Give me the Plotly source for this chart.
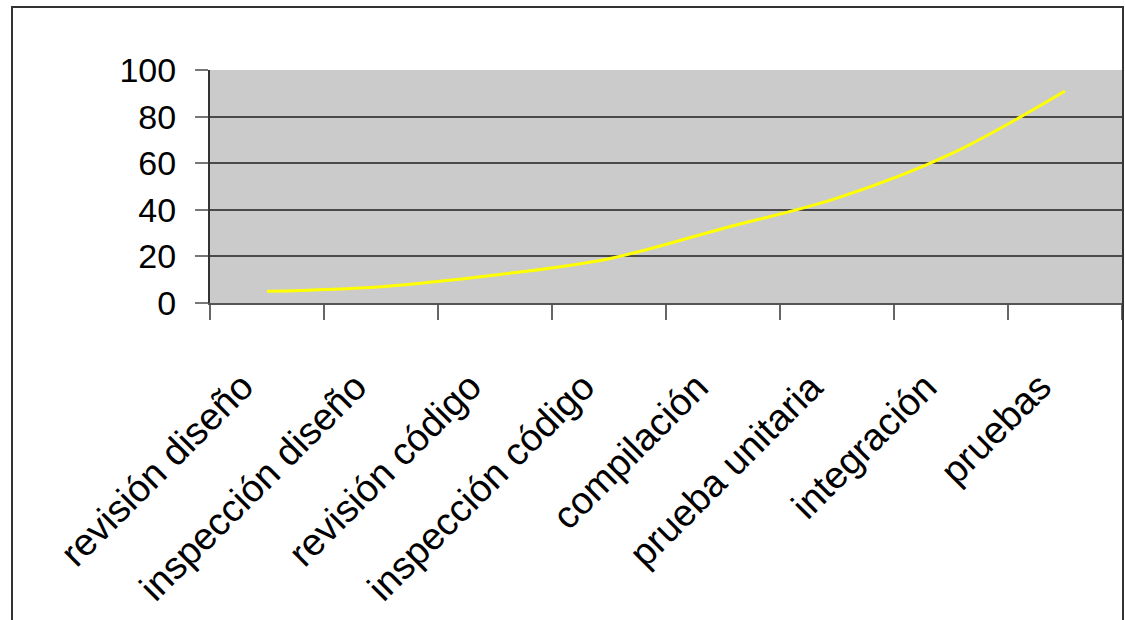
import plotly.graph_objects as go

categories = ["revisión diseño", "inspección diseño", "revisión código", "inspección código",
              "compilación", "prueba unitaria", "integración", "pruebas"]
values = [5, 7, 12, 19, 32, 45, 64, 91]
y_ticks = [0, 20, 40, 60, 80, 100]

W, H = 1125, 620
L, R, T, B = 210, 3, 70, 317
pw, ph = W - L - R, H - T - B

def px_x(x):
    return (x - L) / pw

def px_y(y):
    return (H - B - y) / ph

font_family = "Liberation Sans, Arial, sans-serif"

fig = go.Figure()
fig.add_trace(go.Scatter(
    x=categories, y=values, mode="lines",
    line=dict(color="#FFFF00", width=3, shape="spline", smoothing=1),
    hoverinfo="skip", showlegend=False,
))

fig.update_layout(
    width=W, height=H,
    margin=dict(l=L, r=R, t=T, b=B),
    paper_bgcolor="white",
    plot_bgcolor="#CBCBCB",
    font=dict(family=font_family, color="black"),
    xaxis=dict(
        type="category", range=[-0.5, len(categories) - 0.5],
        tickson="boundaries", ticks="outside", ticklen=15, tickwidth=2, tickcolor="#666666",
        showticklabels=False,
        showline=True, linecolor="#555555", linewidth=2,
        showgrid=False, zeroline=False,
    ),
    yaxis=dict(
        range=[0, 100], tickvals=y_ticks,
        ticks="outside", ticklen=13, tickwidth=2, tickcolor="#777777",
        tickfont=dict(size=34, family=font_family),
        ticklabelstandoff=12,
        showline=True, linecolor="#333333", linewidth=2,
        showgrid=True, gridcolor="#4A4A4A", gridwidth=2,
        zeroline=False,
    ),
)

for c in categories:
    fig.add_annotation(
        x=c, y=0, xref="x", yref="paper",
        text=c, showarrow=False, textangle=-45,
        xanchor="right", yanchor="top", xshift=-5, yshift=-61,
        borderpad=0, font=dict(size=38, family=font_family, color="black"),
    )

fig.add_shape(type="rect", xref="paper", yref="paper",
              x0=px_x(12), x1=px_x(1123), y0=px_y(640), y1=px_y(7),
              line=dict(color="#333333", width=2), fillcolor="rgba(0,0,0,0)", layer="above")

fig.write_html("out.html", config={"displayModeBar": False},
               post_script="document.body.style.margin='0';")
